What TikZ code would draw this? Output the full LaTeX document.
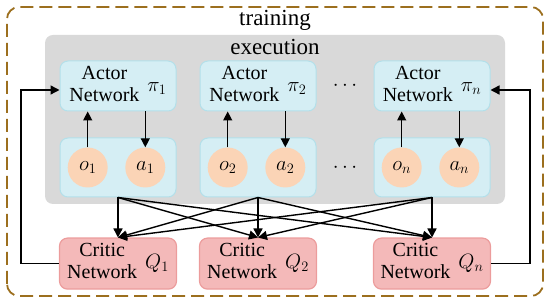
\documentclass[tikz,border=0pt]{standalone}
\usepackage{fontspec}
\setmainfont{Liberation Serif}
\usetikzlibrary{arrows.meta,positioning,calc}
\usepackage{xcolor}

\definecolor{actfill}{HTML}{D5EEF4}
\definecolor{actline}{HTML}{B3E0EA}
\definecolor{varfill}{HTML}{FBD4B6}
\definecolor{critfill}{HTML}{F4B9B9}
\definecolor{critline}{HTML}{EC9C9C}
\definecolor{execgray}{HTML}{D9D9D9}
\definecolor{trainbrown}{HTML}{9C6F1E}

\newcommand{\netlabel}[3]{\begin{tabular}{@{}c@{}}#1\\Network\end{tabular}\hspace{8pt}$#2_{#3}$}

\tikzset{
  actbox/.style={draw=actline, line width=1pt, rounded corners=8pt, fill=actfill,
    minimum width=116pt, minimum height=50pt, inner sep=0pt, font=\fontsize{20}{22}\selectfont},
  obsbox/.style={draw=actline, line width=1pt, rounded corners=8pt, fill=actfill,
    minimum width=116pt, minimum height=59pt, inner sep=0pt},
  critbox/.style={draw=critline, line width=1.2pt, rounded corners=8pt, fill=critfill,
    minimum width=117pt, minimum height=51pt, inner sep=0pt, font=\fontsize{20}{22}\selectfont},
  var/.style={circle, fill=varfill, minimum size=40pt, inner sep=0pt, font=\fontsize{20}{22}\selectfont},
  flow/.style={->, line width=1.4pt},
  title/.style={anchor=base, font=\fontsize{23}{26}\selectfont}
}

\begin{document}
\begin{tikzpicture}[x=1pt, y=1pt, >={Triangle[length=9pt,width=9pt]}]
\useasboundingbox (0,0) rectangle (550,302);
% training frame
\draw[trainbrown, line width=1.8pt, dash pattern=on 13pt off 6pt, rounded corners=12pt] (7,6) rectangle (543,295);
\node[title] (train) at (275,276) {training};
% execution area
\fill[execgray, rounded corners=8pt] (45,98) rectangle (505,267);
\node[title] (exec) at (275,247) {execution};

% actors
\node[actbox] (act1) at (118,216) {\netlabel{Actor}{\pi}{1}};
\node[actbox, right=23pt of act1] (act2) {\netlabel{Actor}{\pi}{2}};
\node[actbox, right=57pt of act2] (actn) {\netlabel{Actor}{\pi}{n}};

% observations and actions
\node[obsbox, below=26pt of act1] (obs1) {};
\node[obsbox, below=26pt of act2] (obs2) {};
\node[obsbox, below=26pt of actn] (obsn) {};
\node[var, right=8pt of obs1.west] (o1) {$o_1$};
\node[var, left=11pt of obs1.east] (a1) {$a_1$};
\node[var, right=8pt of obs2.west] (o2) {$o_2$};
\node[var, left=11pt of obs2.east] (a2) {$a_2$};
\node[var, right=8pt of obsn.west] (on) {$o_n$};
\node[var, left=11pt of obsn.east] (an) {$a_n$};

\node[font=\fontsize{20}{22}\selectfont] (dots1) at ($(act2.east)!0.5!(actn.west)$) {$\cdots$};
\node[font=\fontsize{20}{22}\selectfont] (dots2) at ($(obs2.east)!0.5!(obsn.west)$) {$\cdots$};

% critics
\node[critbox, below=40pt of obs1] (crit1) {\netlabel{Critic}{Q}{1}};
\node[critbox, below=40pt of obs2] (crit2) {\netlabel{Critic}{Q}{2}};
\node[critbox, below=40pt of obsn] (critn) {\netlabel{Critic}{Q}{n}};

% actor links
\draw[flow] (o1) -- (o1 |- act1.south);
\draw[flow] (a1 |- act1.south) -- (a1);
\draw[flow] (o2) -- (o2 |- act2.south);
\draw[flow] (a2 |- act2.south) -- (a2);
\draw[flow] (on) -- (on |- actn.south);
\draw[flow] (an |- actn.south) -- (an);

% every agent to every critic
\draw[flow] (obs1.south) -- (crit1.north);
\draw[flow] (obs1.south) -- (crit2.north);
\draw[flow] (obs1.south) -- (critn.north);
\draw[flow] (obs2.south) -- (crit1.north);
\draw[flow] (obs2.south) -- (crit2.north);
\draw[flow] (obs2.south) -- (critn.north);
\draw[flow] (obsn.south) -- (crit1.north);
\draw[flow] (obsn.south) -- (crit2.north);
\draw[flow] (obsn.south) -- (critn.north);

% feedback to actors
\draw[flow] (crit1.west) -- ++(-38,0) |- ([yshift=-4pt]act1.west);
\draw[flow] (critn.east) -- ++(39,0) |- ([yshift=-4pt]actn.east);
\end{tikzpicture}
\end{document}
